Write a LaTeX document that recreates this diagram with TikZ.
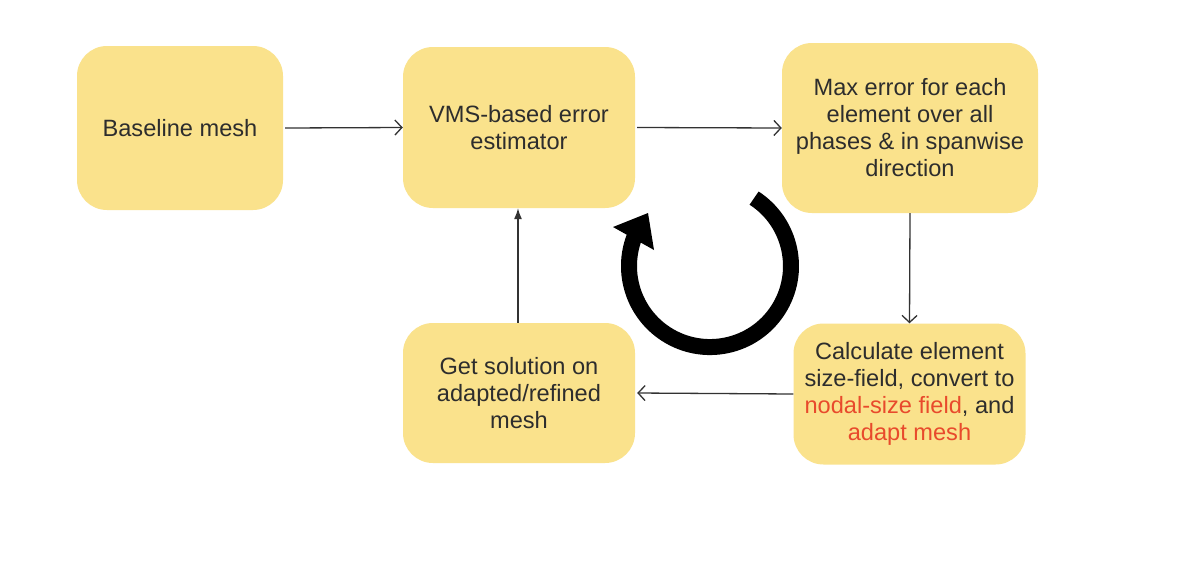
\documentclass[tikz,border=0pt]{standalone}
\usepackage{fontspec}
\setmainfont{Liberation Sans}
\usetikzlibrary{arrows.meta}
\definecolor{boxfill}{RGB}{250,226,140}
\definecolor{txt}{RGB}{45,45,45}
\definecolor{redtxt}{RGB}{232,74,44}
\definecolor{linec}{RGB}{50,50,50}
\begin{document}
\begin{tikzpicture}[x=1pt,y=1pt,
  box/.style={fill=boxfill, rounded corners=30pt, align=center, text=txt,
    font=\fontsize{23.6}{27}\selectfont, inner sep=0pt},
  conn/.style={draw=linec, line width=1.3pt, -{Straight Barb[length=7pt,width=15pt]}},
  connup/.style={draw=linec, line width=1.2pt, -{Latex[length=11pt,width=8pt]}}]
\fill[white] (0,0) rectangle (1201,-563);
\useasboundingbox (0,0) rectangle (1201,-563);

\node[box, minimum width=206pt, minimum height=164pt] (b1) at (180,-128) {Baseline mesh};
\node[box, minimum width=232pt, minimum height=161pt] (b2) at (519,-127.5) {VMS-based error\\estimator};
\node[box, minimum width=256pt, minimum height=170pt] (b3) at (910,-128) {Max error for each\\element over all\\phases \& in spanwise\\direction};
\node[box, minimum width=232pt, minimum height=141pt] (b4) at (909.5,-394) {Calculate element\\size-field, convert to\\\textcolor{redtxt}{nodal-size field}, and\\\textcolor{redtxt}{adapt mesh}};
\node[box, minimum width=232pt, minimum height=140pt] (b5) at (519,-393) {Get solution on\\adapted/refined\\mesh};

\draw[conn] ([xshift=2pt]b1.east) -- (b2.west);
\draw[conn] ([xshift=2pt]b2.east) -- (b3.west);
\draw[conn] (b3.south) -- (b4.north);
\draw[conn] (b4.west) -- ([xshift=2pt]b5.east);
\draw[connup] ([xshift=-1pt]b5.north) -- ([xshift=-1pt]b2.south);

% circular arrow
\draw[line width=16pt, black] (754.1,-198.1) arc[start angle=57, end angle=-201, radius=81];
\fill[black] (648,-213) -- (613,-227) -- (654,-250) -- cycle;
\end{tikzpicture}
\end{document}
